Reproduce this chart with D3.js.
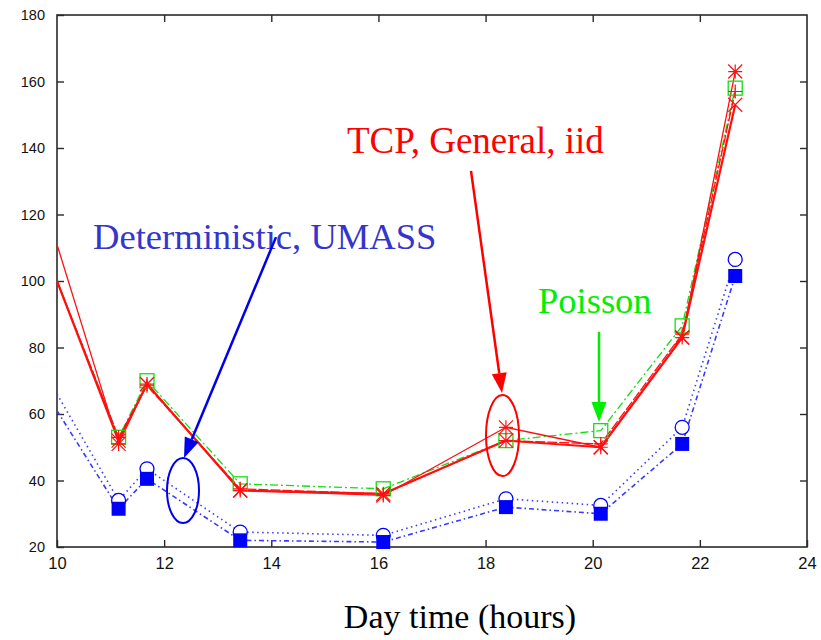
<!DOCTYPE html>
<html><head><meta charset="utf-8">
<script src="https://cdn.jsdelivr.net/npm/d3@7/dist/d3.min.js"></script>
<style>
html,body{margin:0;padding:0;background:#fff;}
svg{display:block;}
</style></head>
<body>
<svg id="chart" width="821" height="640"></svg>
<script>
// ---- data ----
const hours = [10, 11.15, 11.68, 13.42, 16.09, 18.38, 20.15, 21.67, 22.66];
const tcpValues     = [111, 51, 69, 37, 35.5, 56, 50, 83, 163];
const generalValues = [100, 52, 69, 37, 36, 52, 50, 83, 153];
const iidValues     = [100, 53, 68.5, 37.5, 36, 52, 51, 84, 157];
const poissonValues = [100, 53, 70, 39, 37.5, 52, 55, 86.5, 158];
const umassValues   = [66, 34, 43.5, 24.5, 23.5, 34.5, 32.5, 56, 106.5];
const deterministicValues = [61, 31.5, 40.5, 22, 21.5, 32, 30, 51, 101.5];
const xTicks = [10, 12, 14, 16, 18, 20, 22, 24];
const yTicks = [20, 40, 60, 80, 100, 120, 140, 160, 180];
const xLabel = "Day time (hours)";

const svg = d3.select("#chart");
const x = d3.scaleLinear().domain([10, 24]).range([57, 807]);
const y = d3.scaleLinear().domain([20, 180]).range([547, 15]);

const axisColor = "#2a2a2a";
svg.append("rect").attr("x", x(10)).attr("y", y(180))
  .attr("width", x(24) - x(10)).attr("height", y(20) - y(180))
  .attr("fill", "none").attr("stroke", axisColor).attr("stroke-width", 1.6);

function styleAxis(g, labels, size) {
  g.select(".domain").remove();
  g.selectAll(".tick line").attr("stroke", axisColor).attr("stroke-width", 1.4);
  g.selectAll(".tick text").attr("font-family", "Liberation Sans, Arial, sans-serif")
    .attr("font-size", size).attr("fill", "#111");
  if (!labels) g.selectAll(".tick text").remove();
}
svg.append("g").attr("transform", `translate(${x(10)},0)`)
  .call(d3.axisLeft(y).tickValues(yTicks).tickSize(-7).tickPadding(12))
  .call(g => styleAxis(g, true, 14.5));
svg.append("g").attr("transform", `translate(0,${y(20)})`)
  .call(d3.axisBottom(x).tickValues(xTicks).tickSize(-7).tickPadding(10))
  .call(g => styleAxis(g, true, 16.5));
svg.append("g").attr("transform", `translate(0,${y(180)})`)
  .call(d3.axisTop(x).tickValues(xTicks.slice(1, -1)).tickSize(-7))
  .call(g => styleAxis(g, false));
svg.append("g").attr("transform", `translate(${x(24)},0)`)
  .call(d3.axisRight(y).tickValues(yTicks.slice(1, -1)).tickSize(-7))
  .call(g => styleAxis(g, false));

const line = d3.line().x((d, i) => x(hours[i])).y(d => y(d));

function drawLine(vals, color, width, dash) {
  svg.append("path").datum(vals).attr("d", line)
    .attr("fill", "none").attr("stroke", color).attr("stroke-width", width)
    .attr("stroke-dasharray", dash || null).attr("stroke-linejoin", "round");
}
function markers(vals, type, color) {
  const g = svg.append("g");
  vals.forEach((v, i) => {
    if (i === 0) return; // no marker on the left axis
    const cx = x(hours[i]), cy = y(v), s = 7;
    if (type === "square") {
      g.append("rect").attr("x", cx - s).attr("y", cy - s).attr("width", 2 * s).attr("height", 2 * s)
        .attr("fill", "none").attr("stroke", color).attr("stroke-width", 1.3);
    } else if (type === "fsquare") {
      g.append("rect").attr("x", cx - s).attr("y", cy - s).attr("width", 2 * s).attr("height", 2 * s)
        .attr("fill", color);
    } else if (type === "circle") {
      g.append("circle").attr("cx", cx).attr("cy", cy).attr("r", s)
        .attr("fill", "#fff").attr("stroke", color).attr("stroke-width", 1.3);
    } else {
      let p = "";
      if (type === "star" || type === "plus") p += `M${cx - s},${cy}H${cx + s}M${cx},${cy - s}V${cy + s}`;
      if (type === "star" || type === "x") p += `M${cx - s},${cy - s}L${cx + s},${cy + s}M${cx - s},${cy + s}L${cx + s},${cy - s}`;
      g.append("path").attr("d", p).attr("stroke", color).attr("stroke-width", 1.2).attr("fill", "none");
    }
  });
}

const red = "#ff1010", green = "#10e010", blueLine = "#3a3aff", blue = "#0000ff";
drawLine(umassValues, blueLine, 1.6, "1.5,3.5");
drawLine(deterministicValues, blueLine, 1.6, "5,3,1.5,3");
markers(umassValues, "circle", blue);
markers(deterministicValues, "fsquare", blue);
drawLine(poissonValues, green, 1.3, "8,3,2,3");
drawLine(tcpValues, red, 1.3);
drawLine(generalValues, red, 2.2);
drawLine(iidValues, red, 1.3, "10,2");
markers(poissonValues, "square", green);
markers(tcpValues, "star", red);
markers(generalValues, "x", red);
markers(iidValues, "plus", red);

// ---- annotations ----
function arrow(x0, y0, x1, y1, color) {
  const X0 = x(x0), Y0 = y(y0), X1 = x(x1), Y1 = y(y1);
  const dx = X1 - X0, dy = Y1 - Y0, L = Math.hypot(dx, dy), ux = dx / L, uy = dy / L;
  const hl = 20, hw = 7.5;
  const bx = X1 - ux * hl, by = Y1 - uy * hl;
  svg.append("line").attr("x1", X0).attr("y1", Y0).attr("x2", bx).attr("y2", by)
    .attr("stroke", color).attr("stroke-width", 2.5);
  svg.append("path").attr("d", `M${X1},${Y1}L${bx - uy * hw},${by + ux * hw}L${bx + uy * hw},${by - ux * hw}Z`)
    .attr("fill", color);
}
function ellipse(cx, cy, rx, ry, color) {
  svg.append("ellipse").attr("cx", x(cx)).attr("cy", y(cy)).attr("rx", rx).attr("ry", ry)
    .attr("fill", "none").attr("stroke", color).attr("stroke-width", 2);
}
function label(tx, ty, text, color, size) {
  svg.append("text").attr("x", x(tx)).attr("y", y(ty)).text(text)
    .attr("font-family", "Liberation Serif, Times New Roman, serif").attr("font-size", size).attr("fill", color);
}
label(10.672, 109.6, "Deterministic, UMASS", "#3535cc", 36.6);
label(15.413, 138.5, "TCP, General, iid", "#ff0000", 37);
label(18.979, 90.4, "Poisson", "#00ee00", 36.5);
arrow(14.088, 113.2, 12.371, 46.8, "#0000ee");
ellipse(12.352, 37.0, 16, 32.5, "#0000ee");
arrow(17.728, 133.1, 18.307, 66.3, "#ff0000");
ellipse(18.316, 53.5, 16.5, 40.5, "#ff0000");
arrow(20.117, 84.7, 20.117, 57.6, "#00ee00");

svg.append("text").attr("x", 460).attr("y", 628).attr("text-anchor", "middle").text(xLabel)
  .attr("font-family", "Liberation Serif, Times New Roman, serif").attr("font-size", 34).attr("fill", "#000");
</script>
</body></html>
